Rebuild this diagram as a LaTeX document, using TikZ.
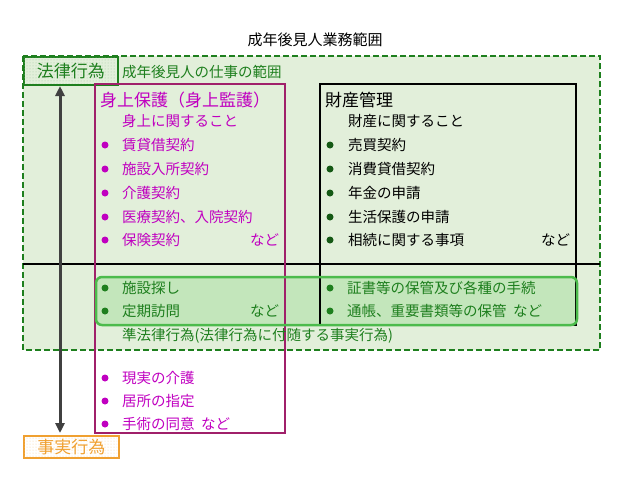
\documentclass[tikz,border=0pt]{standalone}
\usepackage{fontspec}
\setmainfont{Noto Sans CJK JP}
\usetikzlibrary{patterns,arrows.meta}
\definecolor{dg}{HTML}{1E7F1E}
\definecolor{lg}{HTML}{E2EFDA}
\definecolor{mg}{HTML}{C000C0}
\definecolor{mb}{HTML}{A0206A}
\definecolor{gb}{HTML}{4CBB4C}
\definecolor{gf}{HTML}{C3E6BB}
\definecolor{og}{HTML}{F0A030}
\begin{document}
\begin{tikzpicture}[x=1pt,y=-1pt,
  t/.style={anchor=west,inner sep=0,font=\fontsize{14.5}{14.5}\selectfont},
  mt/.style={t,text=mg}, gt/.style={t,text=dg},
  bm/.style={circle,fill=mg,inner sep=0,minimum size=7pt},
  bg/.style={circle,fill=dg,inner sep=0,minimum size=7pt}]
\useasboundingbox (0,0) rectangle (624,483);
\node (title) at (315,40) {\fontsize{15}{15}\selectfont 成年後見人業務範囲};
\draw[dg,dash pattern=on 6pt off 3pt,line width=1.8pt,fill=lg] (23,56) rectangle (600,350);
\node[draw=dg,line width=1.8pt,fill=lg,minimum width=94pt,minimum height=28pt,inner sep=0,anchor=north west] (hk) at (23,56) {};
\fill[pattern=dots,pattern color=dg!40] (24,57) rectangle (116,83);
\node[text=dg,inner sep=0] at (hk) {\fontsize{17}{17}\selectfont 法律行為};
\node[gt] (scope) at (122,72) {成年後見人の仕事の範囲};
\fill[gf,rounded corners=6pt] (96,277) rectangle (577,325);
\draw[black,line width=1.5pt] (320,84) rectangle (576,325);
\draw[black,line width=2pt] (23,264) -- (600,264);
\draw[mb,line width=1.5pt] (95,84) rectangle (285,433);
\draw[gb,line width=2.5pt,rounded corners=6pt] (96,277) rectangle (577,325);
\node[draw=og,line width=1.8pt,minimum width=95pt,minimum height=22pt,inner sep=0,anchor=north west] (jj) at (23,435) {};
\fill[pattern=dots,pattern color=og!50] (24,436) rectangle (117,456);
\node[text=og,inner sep=0] at (jj) {\fontsize{17}{17}\selectfont 事実行為};
\draw[{Triangle[length=10pt,width=9pt]}-{Triangle[length=10pt,width=9pt]},line width=3pt,black!75] (60,86) -- (60,433);
\node[mt,font=\fontsize{17}{17}\selectfont] (sh) at (100,100) {身上保護（身上監護）};
\node[mt] at (122,121) {身上に関すること};
\foreach \y/\s in {145/賃貸借契約,169/施設入所契約,193/介護契約,217/医療契約、入院契約,240/保険契約,378/現実の介護,401/居所の指定}{
  \node[bm] at (105,\y) {}; \node[mt] at (122,\y) {\s};}
\node[bm] at (105,424) {}; \node[mt] at (122,424) {手術の同意\ \ など};
\node[mt] at (250,240) {など};
\node[t,font=\fontsize{17}{17}\selectfont] (zk) at (325,100) {財産管理};
\node[t] at (348,121) {財産に関すること};
\foreach \y/\s in {145/売買契約,169/消費貸借契約,193/年金の申請,217/生活保護の申請,240/相続に関する事項}{
  \node[circle,fill=dg!70!black,inner sep=0,minimum size=7pt] at (330,\y) {}; \node[t] at (348,\y) {\s};}
\node[t] at (541,240) {など};
\foreach \x/\y/\s in {105/288/施設探し,105/311/定期訪問,330/288/証書等の保管及び各種の手続,330/311/通帳、重要書類等の保管\ \ など}{
  \node[bg] at (\x,\y) {}; \node[gt] at (\x+17,\y) {\s};}
\node[gt] at (250,311) {など};
\node[gt] at (122,336) {準法律行為(法律行為に付随する事実行為)};
\end{tikzpicture}
\end{document}
